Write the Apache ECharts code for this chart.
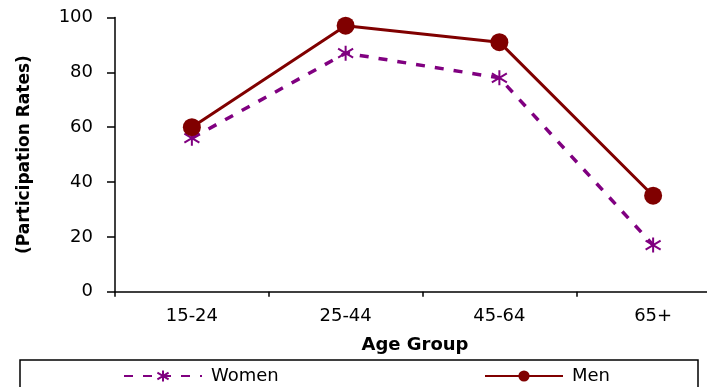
<!DOCTYPE html>
<html>
<head>
<meta charset="utf-8">
<script src="https://cdn.jsdelivr.net/npm/echarts@6/dist/echarts.min.js"></script>
<style>
html,body{margin:0;padding:0;background:#fff;overflow:hidden;width:707px;height:387px;}
#chart{width:730px;height:387px;}
</style>
</head>
<body>
<div id="chart"></div>
<script>
var categories = ['15-24', '25-44', '45-64', '65+'];
var women = [56, 87, 78, 17];
var men = [60, 97, 91, 35];
var yTicks = [0, 20, 40, 60, 80, 100];
var xTitle = 'Age Group';
var yTitle = '(Participation Rates)';

var FONT = 'DejaVu Sans';
var starPath = 'path://M0,-10L0,10M-8,-6L8,6M-8,6L8,-6';

var chart = echarts.init(document.getElementById('chart'), null, {renderer: 'canvas'});
chart.setOption({
  animation: false,
  backgroundColor: '#ffffff',
  grid: {left: 115, top: 17.5, right: 0, bottom: 95.3, containLabel: false},
  xAxis: {
    type: 'category',
    data: categories,
    boundaryGap: true,
    axisLine: {lineStyle: {color: '#000', width: 1.5}},
    axisTick: {show: true, length: 5, inside: false, lineStyle: {color: '#000', width: 1.5}},
    axisLabel: {color: '#000', fontFamily: FONT, fontSize: 18, margin: 16},
    splitLine: {show: false}
  },
  yAxis: {
    type: 'value',
    min: yTicks[0],
    max: yTicks[yTicks.length - 1],
    interval: yTicks[1] - yTicks[0],
    name: yTitle,
    nameLocation: 'middle',
    nameGap: 82,
    nameTextStyle: {color: '#000', fontFamily: FONT, fontSize: 17, fontWeight: 'bold'},
    axisLine: {show: true, lineStyle: {color: '#000', width: 1.5}},
    axisTick: {show: true, length: 8, inside: false, lineStyle: {color: '#000', width: 1.5}},
    axisLabel: {color: '#000', fontFamily: FONT, fontSize: 18, margin: 22},
    splitLine: {show: false}
  },
  legend: [
    {
      data: ['Women'],
      left: 118, top: 362,
      itemWidth: 78, itemHeight: 14,
      textStyle: {color: '#000', fontFamily: FONT, fontSize: 18, padding: [0, 0, 0, 4]}
    },
    {
      data: ['Men'],
      left: 479, top: 362,
      itemWidth: 78, itemHeight: 14,
      textStyle: {color: '#000', fontFamily: FONT, fontSize: 18, padding: [0, 0, 0, 4]}
    }
  ],
  graphic: [
    {
      type: 'rect', silent: true,
      shape: {x: 20, y: 360, width: 678, height: 60},
      style: {fill: 'none', stroke: '#000', lineWidth: 1.5}
    },
    {
      type: 'text', silent: true,
      x: 415, y: 345,
      style: {text: xTitle, fill: '#000', font: 'bold 18px "DejaVu Sans"', align: 'center', verticalAlign: 'middle'}
    }
  ],
  series: [
    {
      name: 'Women',
      type: 'line',
      data: women,
      symbol: starPath,
      symbolSize: 15,
      itemStyle: {color: '#800080', borderColor: '#800080', borderWidth: 2},
      lineStyle: {color: '#800080', width: 3.5, type: [9, 10]},
      z: 2
    },
    {
      name: 'Men',
      type: 'line',
      data: men,
      symbol: 'circle',
      symbolSize: 18,
      itemStyle: {color: '#800000', borderColor: '#800000', borderWidth: 0},
      lineStyle: {color: '#800000', width: 3},
      z: 3
    }
  ]
});
</script>
</body>
</html>
